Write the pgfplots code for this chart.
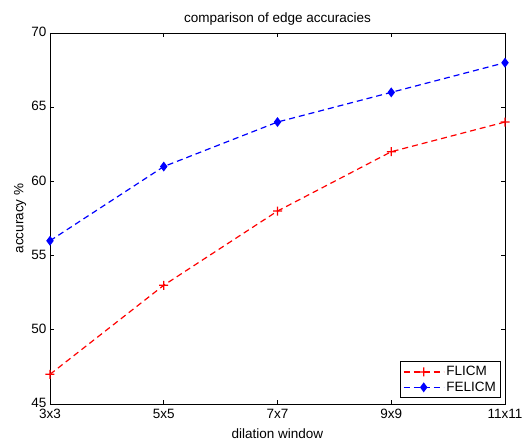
\documentclass[border=0pt]{standalone}
\usepackage{pgfplots}
\pgfplotsset{compat=1.18}
\usepackage{fontspec}
\setmainfont{Liberation Sans}
\pgfdeclareplotmark{redplus}{%
  \pgfsetfillcolor{red}%
  \pgfpathrectangle{\pgfqpoint{-\pgfplotmarksize}{-0.6pt}}{\pgfqpoint{2\pgfplotmarksize}{1.2pt}}%
  \pgfpathrectangle{\pgfqpoint{-0.6pt}{-\pgfplotmarksize}}{\pgfqpoint{1.2pt}{2\pgfplotmarksize}}%
  \pgfusepathqfill}
\begin{document}
\fontsize{13.5}{16}\selectfont
\begin{tikzpicture}
\path[use as bounding box] (-50pt,-40pt) rectangle (473pt,404pt);
\begin{axis}[
  at={(0pt,0pt)}, anchor=south west,
  scale only axis, width=455pt, height=371pt,
  xmin=0, xmax=4, ymin=45, ymax=70,
  xtick={0,1,2,3,4},
  xticklabels={3x3,5x5,7x7,9x9,11x11},
  ytick={45,50,55,60,65,70},
  tick align=inside, major tick length=4pt,
  tick style={black, line width=0.6pt},
  axis line style={line width=0.8pt},
  /pgf/number format/assume math mode=true,
  ticklabel style={font=\fontsize{13.5}{16}\selectfont},
  xticklabel style={yshift=-4pt, inner sep=1pt},
  yticklabel style={xshift=1pt, yshift=1pt},
  title={comparison of edge accuracies},
  title style={font=\fontsize{13.5}{16}\selectfont, yshift=-3pt},
  xlabel={dilation window},
  xlabel style={font=\fontsize{13.5}{16}\selectfont, yshift=-4pt},
  ylabel={accuracy \%},
  ylabel style={font=\fontsize{13.5}{16}\selectfont, yshift=-4pt},
  legend style={font=\fontsize{13.5}{16}\selectfont, draw=black, line width=0.8pt,
    at={(0.9906,0.0162)}, anchor=south east, inner sep=2.5pt, row sep=0pt},
  legend cell align=left,
  legend image code/.code={
    \draw[mark repeat=2,mark phase=2,#1] plot coordinates {(0pt,0pt) (20pt,0pt) (40pt,0pt)};
  },
]
\addplot[color=red, line width=1.2pt, dash pattern=on 6pt off 4pt, mark=redplus, mark size=4.5pt, mark options={solid, fill=red, draw=none}]
  coordinates {(0,47) (1,53) (2,58) (3,62) (4,64)};
\addlegendentry{FLICM}
\addplot[color=blue, line width=1.2pt, dash pattern=on 6pt off 4pt, mark=diamond*, mark size=4pt, mark options={solid, draw=blue, fill=blue}]
  coordinates {(0,56) (1,61) (2,64) (3,66) (4,68)};
\addlegendentry{FELICM}
\end{axis}
\end{tikzpicture}
\end{document}
